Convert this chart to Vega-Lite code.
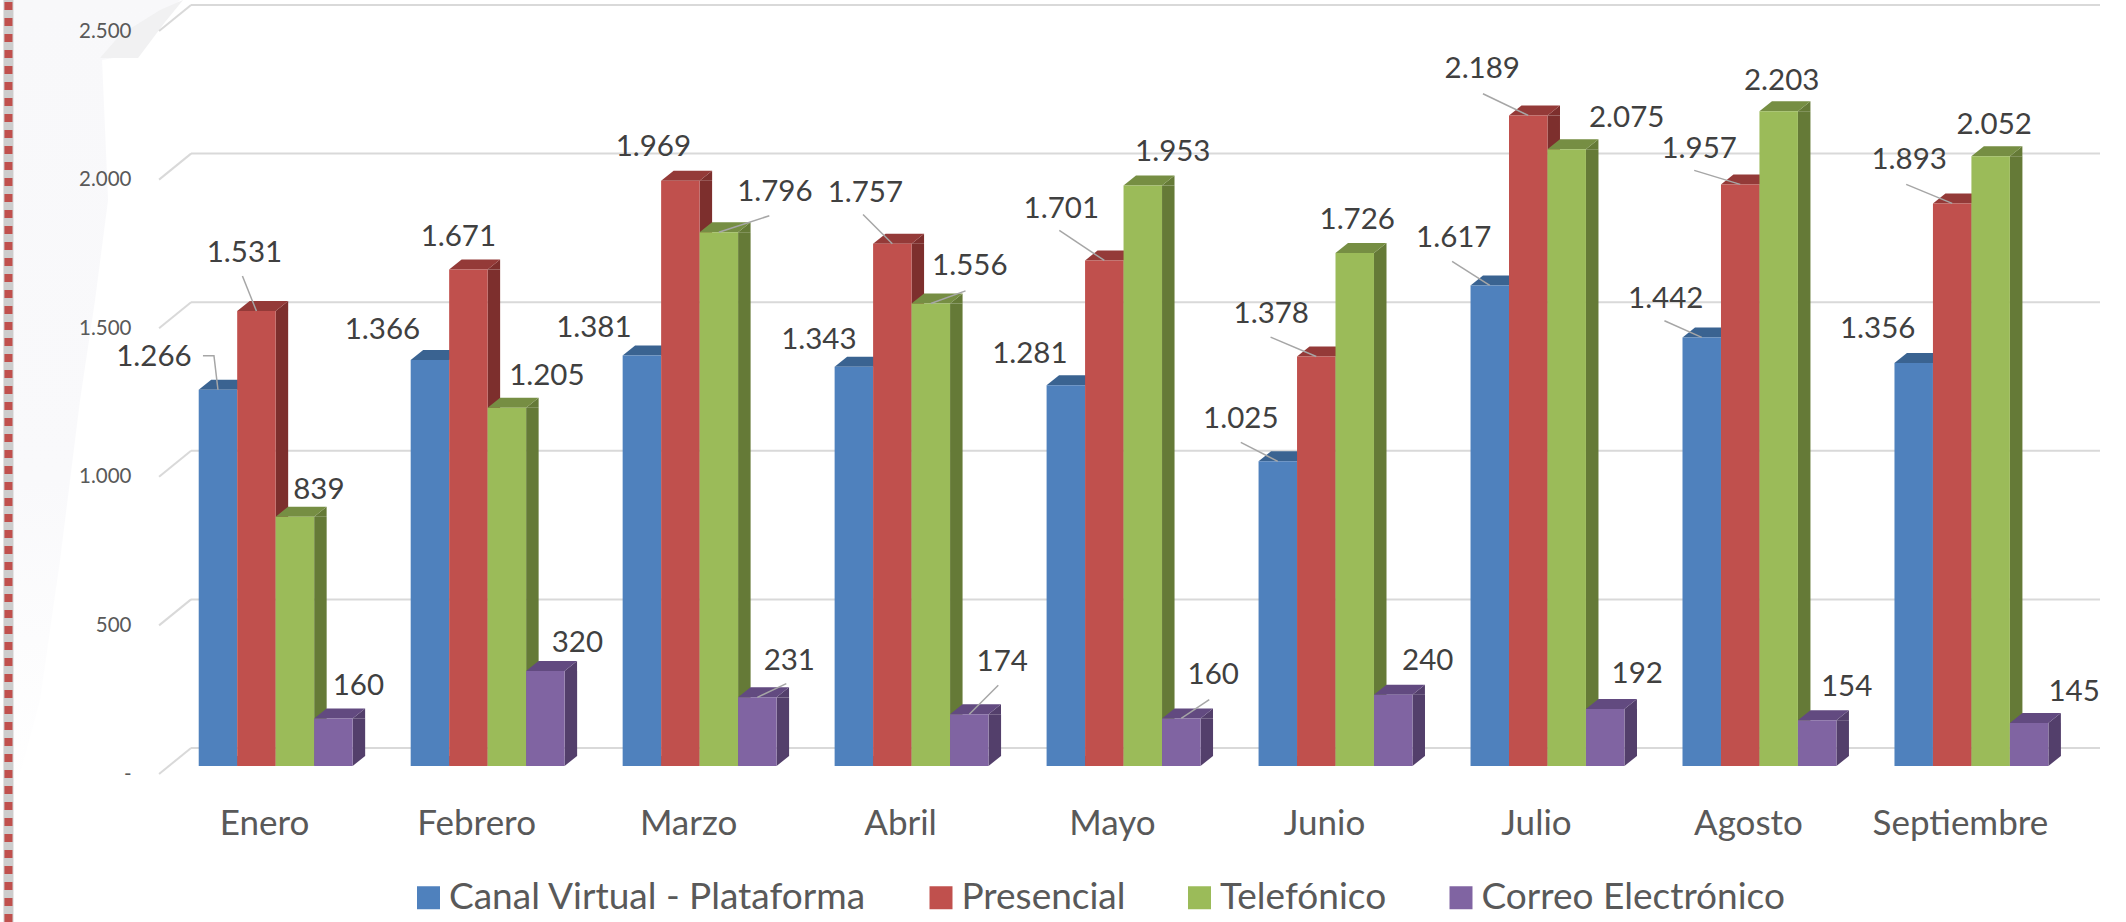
{
"$schema":"https://vega.github.io/schema/vega-lite/v6.json",
"width":1909,"height":743,
"autosize":{"type":"none"},
"padding":{"left":191,"top":23,"right":26,"bottom":156},
"background":"white",
"config":{"view":{"stroke":null},"font":"Lato","locale":{"number":{"decimal":",","thousands":".","grouping":[3],"currency":["$",""]}}},
"datasets":{
"marcas":[{"marca":0},{"marca":500},{"marca":1000},{"marca":1500},{"marca":2000},{"marca":2500}],
"atenciones":[
{"mes":"Enero","canal":"Canal Virtual - Plataforma","valor":1266},{"mes":"Enero","canal":"Presencial","valor":1531},{"mes":"Enero","canal":"Telefónico","valor":839},{"mes":"Enero","canal":"Correo Electrónico","valor":160},
{"mes":"Febrero","canal":"Canal Virtual - Plataforma","valor":1366},{"mes":"Febrero","canal":"Presencial","valor":1671},{"mes":"Febrero","canal":"Telefónico","valor":1205},{"mes":"Febrero","canal":"Correo Electrónico","valor":320},
{"mes":"Marzo","canal":"Canal Virtual - Plataforma","valor":1381},{"mes":"Marzo","canal":"Presencial","valor":1969},{"mes":"Marzo","canal":"Telefónico","valor":1796},{"mes":"Marzo","canal":"Correo Electrónico","valor":231},
{"mes":"Abril","canal":"Canal Virtual - Plataforma","valor":1343},{"mes":"Abril","canal":"Presencial","valor":1757},{"mes":"Abril","canal":"Telefónico","valor":1556},{"mes":"Abril","canal":"Correo Electrónico","valor":174},
{"mes":"Mayo","canal":"Canal Virtual - Plataforma","valor":1281},{"mes":"Mayo","canal":"Presencial","valor":1701},{"mes":"Mayo","canal":"Telefónico","valor":1953},{"mes":"Mayo","canal":"Correo Electrónico","valor":160},
{"mes":"Junio","canal":"Canal Virtual - Plataforma","valor":1025},{"mes":"Junio","canal":"Presencial","valor":1378},{"mes":"Junio","canal":"Telefónico","valor":1726},{"mes":"Junio","canal":"Correo Electrónico","valor":240},
{"mes":"Julio","canal":"Canal Virtual - Plataforma","valor":1617},{"mes":"Julio","canal":"Presencial","valor":2189},{"mes":"Julio","canal":"Telefónico","valor":2075},{"mes":"Julio","canal":"Correo Electrónico","valor":192},
{"mes":"Agosto","canal":"Canal Virtual - Plataforma","valor":1442},{"mes":"Agosto","canal":"Presencial","valor":1957},{"mes":"Agosto","canal":"Telefónico","valor":2203},{"mes":"Agosto","canal":"Correo Electrónico","valor":154},
{"mes":"Septiembre","canal":"Canal Virtual - Plataforma","valor":1356},{"mes":"Septiembre","canal":"Presencial","valor":1893},{"mes":"Septiembre","canal":"Telefónico","valor":2052},{"mes":"Septiembre","canal":"Correo Electrónico","valor":145}
]},
"layer":[
{"data":{"values":[{"fondo":1}]},
 "mark":{"type":"point","shape":"M13 0L180 0L130 55L102 60L108 200L95 300L80 400L60 560L40 700L13 800Z","size":4,"filled":true,"opacity":1,"xOffset":-275.6,
   "fill":{"gradient":"linear","x1":0,"y1":0,"x2":0,"y2":1,"stops":[{"offset":0,"color":"#f8f8fa"},{"offset":0.6,"color":"#f9f9fb"},{"offset":1,"color":"#ffffff"}]}},
 "encoding":{"x":{"datum":"Enero","type":"nominal","axis":{"title":null}},"y":{"datum":2577.4,"type":"quantitative","axis":{"title":null}}}},
{"data":{"values":[{"fondo":1}]},
 "mark":{"type":"point","shape":"M100 58L138 58L165 22L183 0L160 10L120 35Z","size":4,"filled":true,"fill":"#f1f1f2","opacity":1,"xOffset":-275.6},
 "encoding":{"x":{"datum":"Enero","type":"nominal","axis":{"title":null}},"y":{"datum":2577.4,"type":"quantitative","axis":{"title":null}}}},
{"data":{"values":[{"borde":1}]},
 "mark":{"type":"rule","color":"#cdcdcd","strokeWidth":10,"xOffset":-267.2},
 "encoding":{"x":{"datum":"Enero","type":"nominal","axis":{"title":null}},"y":{"datum":2577.4,"type":"quantitative","axis":{"title":null}},"y2":{"datum":-525}}},
{"data":{"values":[{"borde":1}]},
 "mark":{"type":"rule","color":"#c0504d","strokeWidth":8,"strokeDash":[8,8],"xOffset":-267.2},
 "encoding":{"x":{"datum":"Enero","type":"nominal","axis":{"title":null}},"y":{"datum":2570.7,"type":"quantitative","axis":{"title":null}},"y2":{"datum":-525}}},
{"data":{"name":"marcas"},
 "mark":{"type":"rule","color":"#d9d9d9","strokeWidth":2,"yOffset":-18},
 "encoding":{"y":{"field":"marca","type":"quantitative","scale":{"domain":[0,2500],"nice":false},
   "axis":{"title":null,"domain":false,"ticks":false,"grid":false,"zindex":1,"values":[0,500,1000,1500,2000,2500],"labelFontSize":20.5,"labelColor":"#595959","labelPadding":60,"labelOffset":8,"labelExpr":"datum.value==0?'-':format(datum.value,',')"}}}},
{"data":{"name":"marcas"},
 "mark":{"type":"point","shape":"M-32 8L0 -18","size":4,"filled":false,"stroke":"#d9d9d9","strokeWidth":2,"opacity":1,"xOffset":-84.6},
 "encoding":{"x":{"datum":"Enero","type":"nominal","axis":{"title":null}},"y":{"field":"marca","type":"quantitative","axis":{"title":null}}}},
{"data":{"name":"atenciones"},
 "resolve":{"scale":{"color":"independent"}},
 "encoding":{
  "x":{"field":"mes","type":"nominal","sort":null,
    "scale":{"domain":["Enero","Febrero","Marzo","Abril","Mayo","Junio","Julio","Agosto","Septiembre"],"paddingInner":0.274,"paddingOuter":0.14,"align":0.13},
    "axis":{"title":null,"domain":false,"ticks":false,"grid":false,"labelAngle":0,"labelAlign":"center","labelBaseline":"top","labelFontSize":35,"labelColor":"#595959","labelPadding":40,"labelOffset":-11}},
  "y":{"field":"valor","type":"quantitative","axis":{"title":null}}},
 "layer":[
  {"transform":[{"filter":"datum.canal=='Presencial'"}],"mark":{"type":"bar","color":"#7d2f2d","width":12.5,"xOffset":6.25,"y2Offset":-10},"encoding":{"y2":{"datum":0}}},
  {"transform":[{"filter":"datum.canal=='Telefónico'"}],"mark":{"type":"bar","color":"#657a37","width":12.5,"xOffset":44.75,"y2Offset":-10},"encoding":{"y2":{"datum":0}}},
  {"transform":[{"filter":"datum.canal=='Correo Electrónico'"}],"mark":{"type":"bar","color":"#533f6b","width":12.5,"xOffset":83.25,"y2Offset":-10},"encoding":{"y2":{"datum":0}}},
  {"mark":{"type":"point","shape":"M19.25 0L19.25 -10L31.75 -10Z","size":4,"filled":true,"opacity":1},
   "encoding":{"y":{"datum":0},"xOffset":{"field":"canal","type":"nominal","sort":null,"scale":{"domain":["Canal Virtual - Plataforma","Presencial","Telefónico","Correo Electrónico"]}},
    "color":{"field":"canal","type":"nominal","legend":null,"scale":{"domain":["Canal Virtual - Plataforma","Presencial","Telefónico","Correo Electrónico"],"range":["#3a6391","#7d2f2d","#657a37","#533f6b"]}}}},
  {"mark":{"type":"point","shape":"M19.25 0L31.75 -10L31.75 0Z","size":4,"filled":true,"opacity":1},
   "encoding":{"xOffset":{"field":"canal","type":"nominal","sort":null},
    "color":{"field":"canal","type":"nominal","legend":null,"scale":{"domain":["Canal Virtual - Plataforma","Presencial","Telefónico","Correo Electrónico"],"range":["#3a6391","#7d2f2d","#657a37","#533f6b"]}}}},
  {"mark":{"type":"point","shape":"M-19.25 0L19.25 0L31.75 -10L-6.75 -10Z","size":4,"filled":true,"opacity":1},
   "encoding":{"xOffset":{"field":"canal","type":"nominal","sort":null},
    "color":{"field":"canal","type":"nominal","legend":null,"scale":{"domain":["Canal Virtual - Plataforma","Presencial","Telefónico","Correo Electrónico"],"range":["#3a6391","#943a38","#768e43","#624a80"]}}}},
  {"mark":{"type":"bar"},
   "encoding":{"y2":{"datum":0},"xOffset":{"field":"canal","type":"nominal","sort":null},
    "color":{"field":"canal","type":"nominal","sort":null,"scale":{"domain":["Canal Virtual - Plataforma","Presencial","Telefónico","Correo Electrónico"],"range":["#4f81bd","#c0504d","#9bbb59","#8064a2"]},
     "legend":{"title":null,"orient":"none","legendX":219,"legendY":856,"direction":"horizontal","columns":4,"symbolType":"square","symbolSize":529,"symbolStrokeWidth":0,"labelFontSize":37,"labelColor":"#595959","labelLimit":700,"labelOffset":2,"columnPadding":55.5}}}},
  {"encoding":{"xOffset":{"field":"canal","type":"nominal","sort":null}},
   "layer":[
    {"transform":[{"filter":"datum.mes=='Enero'&&datum.canal=='Canal Virtual - Plataforma'"}],"mark":{"type":"point","shape":"M-15 -34L-4 -34L0 0","size":4,"filled":false,"stroke":"#a6a6a6","strokeWidth":1.5,"opacity":1}},
    {"transform":[{"filter":"datum.mes=='Enero'&&datum.canal=='Presencial'"}],"mark":{"type":"point","shape":"M-14 -35L0 0","size":4,"filled":false,"stroke":"#a6a6a6","strokeWidth":1.5,"opacity":1}},
    {"transform":[{"filter":"datum.mes=='Marzo'&&datum.canal=='Telefónico'"}],"mark":{"type":"point","shape":"M50.5 -16.5L0 0","size":4,"filled":false,"stroke":"#a6a6a6","strokeWidth":1.5,"opacity":1}},
    {"transform":[{"filter":"datum.mes=='Marzo'&&datum.canal=='Correo Electrónico'"}],"mark":{"type":"point","shape":"M29 -13.7L0 0","size":4,"filled":false,"stroke":"#a6a6a6","strokeWidth":1.5,"opacity":1}},
    {"transform":[{"filter":"datum.mes=='Abril'&&datum.canal=='Presencial'"}],"mark":{"type":"point","shape":"M-29.3 -29.3L0 0","size":4,"filled":false,"stroke":"#a6a6a6","strokeWidth":1.5,"opacity":1}},
    {"transform":[{"filter":"datum.mes=='Abril'&&datum.canal=='Telefónico'"}],"mark":{"type":"point","shape":"M34.7 -12.7L0 0","size":4,"filled":false,"stroke":"#a6a6a6","strokeWidth":1.5,"opacity":1}},
    {"transform":[{"filter":"datum.mes=='Abril'&&datum.canal=='Correo Electrónico'"}],"mark":{"type":"point","shape":"M29 -29L0 0","size":4,"filled":false,"stroke":"#a6a6a6","strokeWidth":1.5,"opacity":1}},
    {"transform":[{"filter":"datum.mes=='Mayo'&&datum.canal=='Presencial'"}],"mark":{"type":"point","shape":"M-45 -30L0 0","size":4,"filled":false,"stroke":"#a6a6a6","strokeWidth":1.5,"opacity":1}},
    {"transform":[{"filter":"datum.mes=='Mayo'&&datum.canal=='Correo Electrónico'"}],"mark":{"type":"point","shape":"M28 -18.7L0 0","size":4,"filled":false,"stroke":"#a6a6a6","strokeWidth":1.5,"opacity":1}},
    {"transform":[{"filter":"datum.mes=='Junio'&&datum.canal=='Canal Virtual - Plataforma'"}],"mark":{"type":"point","shape":"M-37 -19L0 0","size":4,"filled":false,"stroke":"#a6a6a6","strokeWidth":1.5,"opacity":1}},
    {"transform":[{"filter":"datum.mes=='Junio'&&datum.canal=='Presencial'"}],"mark":{"type":"point","shape":"M-45.7 -19.3L0 0","size":4,"filled":false,"stroke":"#a6a6a6","strokeWidth":1.5,"opacity":1}},
    {"transform":[{"filter":"datum.mes=='Julio'&&datum.canal=='Canal Virtual - Plataforma'"}],"mark":{"type":"point","shape":"M-37.7 -24L0 0","size":4,"filled":false,"stroke":"#a6a6a6","strokeWidth":1.5,"opacity":1}},
    {"transform":[{"filter":"datum.mes=='Julio'&&datum.canal=='Presencial'"}],"mark":{"type":"point","shape":"M-45.3 -21.7L0 0","size":4,"filled":false,"stroke":"#a6a6a6","strokeWidth":1.5,"opacity":1}},
    {"transform":[{"filter":"datum.mes=='Agosto'&&datum.canal=='Canal Virtual - Plataforma'"}],"mark":{"type":"point","shape":"M-37.3 -16.7L0 0","size":4,"filled":false,"stroke":"#a6a6a6","strokeWidth":1.5,"opacity":1}},
    {"transform":[{"filter":"datum.mes=='Agosto'&&datum.canal=='Presencial'"}],"mark":{"type":"point","shape":"M-46 -14L0 0","size":4,"filled":false,"stroke":"#a6a6a6","strokeWidth":1.5,"opacity":1}},
    {"transform":[{"filter":"datum.mes=='Septiembre'&&datum.canal=='Presencial'"}],"mark":{"type":"point","shape":"M-46 -19L0 0","size":4,"filled":false,"stroke":"#a6a6a6","strokeWidth":1.5,"opacity":1}}
   ]},
  {"encoding":{"xOffset":{"field":"canal","type":"nominal","sort":null},"text":{"field":"valor","type":"quantitative","format":","}},
   "layer":[
    {"transform":[{"filter":"datum.mes=='Enero'&&datum.canal=='Canal Virtual - Plataforma'"}],"mark":{"type":"text","fontSize":29.5,"color":"#404040","dx":-64,"dy":-33}},
    {"transform":[{"filter":"datum.mes=='Enero'&&datum.canal=='Presencial'"}],"mark":{"type":"text","fontSize":29.5,"color":"#404040","dx":-12,"dy":-57.5}},
    {"transform":[{"filter":"datum.mes=='Enero'&&datum.canal=='Telefónico'"}],"mark":{"type":"text","fontSize":29.5,"color":"#404040","dx":24,"dy":-27}},
    {"transform":[{"filter":"datum.mes=='Enero'&&datum.canal=='Correo Electrónico'"}],"mark":{"type":"text","fontSize":29.5,"color":"#404040","dx":25,"dy":-32}},
    {"transform":[{"filter":"datum.mes=='Febrero'&&datum.canal=='Canal Virtual - Plataforma'"}],"mark":{"type":"text","fontSize":29.5,"color":"#404040","dx":-47.5,"dy":-30.5}},
    {"transform":[{"filter":"datum.mes=='Febrero'&&datum.canal=='Presencial'"}],"mark":{"type":"text","fontSize":29.5,"color":"#404040","dx":-10,"dy":-32}},
    {"transform":[{"filter":"datum.mes=='Febrero'&&datum.canal=='Telefónico'"}],"mark":{"type":"text","fontSize":29.5,"color":"#404040","dx":40,"dy":-32}},
    {"transform":[{"filter":"datum.mes=='Febrero'&&datum.canal=='Correo Electrónico'"}],"mark":{"type":"text","fontSize":29.5,"color":"#404040","dx":32,"dy":-28}},
    {"transform":[{"filter":"datum.mes=='Marzo'&&datum.canal=='Canal Virtual - Plataforma'"}],"mark":{"type":"text","fontSize":29.5,"color":"#404040","dx":-48,"dy":-27.6}},
    {"transform":[{"filter":"datum.mes=='Marzo'&&datum.canal=='Presencial'"}],"mark":{"type":"text","fontSize":29.5,"color":"#404040","dx":-27,"dy":-34}},
    {"transform":[{"filter":"datum.mes=='Marzo'&&datum.canal=='Telefónico'"}],"mark":{"type":"text","fontSize":29.5,"color":"#404040","dx":56,"dy":-40}},
    {"transform":[{"filter":"datum.mes=='Marzo'&&datum.canal=='Correo Electrónico'"}],"mark":{"type":"text","fontSize":29.5,"color":"#404040","dx":32,"dy":-36}},
    {"transform":[{"filter":"datum.mes=='Abril'&&datum.canal=='Canal Virtual - Plataforma'"}],"mark":{"type":"text","fontSize":29.5,"color":"#404040","dx":-35,"dy":-26.6}},
    {"transform":[{"filter":"datum.mes=='Abril'&&datum.canal=='Presencial'"}],"mark":{"type":"text","fontSize":29.5,"color":"#404040","dx":-27,"dy":-51}},
    {"transform":[{"filter":"datum.mes=='Abril'&&datum.canal=='Telefónico'"}],"mark":{"type":"text","fontSize":29.5,"color":"#404040","dx":39,"dy":-38}},
    {"transform":[{"filter":"datum.mes=='Abril'&&datum.canal=='Correo Electrónico'"}],"mark":{"type":"text","fontSize":29.5,"color":"#404040","dx":33,"dy":-52.6}},
    {"transform":[{"filter":"datum.mes=='Mayo'&&datum.canal=='Canal Virtual - Plataforma'"}],"mark":{"type":"text","fontSize":29.5,"color":"#404040","dx":-36,"dy":-31.4}},
    {"transform":[{"filter":"datum.mes=='Mayo'&&datum.canal=='Presencial'"}],"mark":{"type":"text","fontSize":29.5,"color":"#404040","dx":-43,"dy":-51.7}},
    {"transform":[{"filter":"datum.mes=='Mayo'&&datum.canal=='Telefónico'"}],"mark":{"type":"text","fontSize":29.5,"color":"#404040","dx":30,"dy":-33.7}},
    {"transform":[{"filter":"datum.mes=='Mayo'&&datum.canal=='Correo Electrónico'"}],"mark":{"type":"text","fontSize":29.5,"color":"#404040","dx":32,"dy":-43}},
    {"transform":[{"filter":"datum.mes=='Junio'&&datum.canal=='Canal Virtual - Plataforma'"}],"mark":{"type":"text","fontSize":29.5,"color":"#404040","dx":-37,"dy":-42.4}},
    {"transform":[{"filter":"datum.mes=='Junio'&&datum.canal=='Presencial'"}],"mark":{"type":"text","fontSize":29.5,"color":"#404040","dx":-45,"dy":-42}},
    {"transform":[{"filter":"datum.mes=='Junio'&&datum.canal=='Telefónico'"}],"mark":{"type":"text","fontSize":29.5,"color":"#404040","dx":2.5,"dy":-33}},
    {"transform":[{"filter":"datum.mes=='Junio'&&datum.canal=='Correo Electrónico'"}],"mark":{"type":"text","fontSize":29.5,"color":"#404040","dx":34.5,"dy":-34}},
    {"transform":[{"filter":"datum.mes=='Julio'&&datum.canal=='Canal Virtual - Plataforma'"}],"mark":{"type":"text","fontSize":29.5,"color":"#404040","dx":-36,"dy":-47}},
    {"transform":[{"filter":"datum.mes=='Julio'&&datum.canal=='Presencial'"}],"mark":{"type":"text","fontSize":29.5,"color":"#404040","dx":-46,"dy":-46}},
    {"transform":[{"filter":"datum.mes=='Julio'&&datum.canal=='Telefónico'"}],"mark":{"type":"text","fontSize":29.5,"color":"#404040","dx":60,"dy":-31}},
    {"transform":[{"filter":"datum.mes=='Julio'&&datum.canal=='Correo Electrónico'"}],"mark":{"type":"text","fontSize":29.5,"color":"#404040","dx":32,"dy":-35}},
    {"transform":[{"filter":"datum.mes=='Agosto'&&datum.canal=='Canal Virtual - Plataforma'"}],"mark":{"type":"text","fontSize":29.5,"color":"#404040","dx":-36,"dy":-38}},
    {"transform":[{"filter":"datum.mes=='Agosto'&&datum.canal=='Presencial'"}],"mark":{"type":"text","fontSize":29.5,"color":"#404040","dx":-41,"dy":-35}},
    {"transform":[{"filter":"datum.mes=='Agosto'&&datum.canal=='Telefónico'"}],"mark":{"type":"text","fontSize":29.5,"color":"#404040","dx":3,"dy":-30}},
    {"transform":[{"filter":"datum.mes=='Agosto'&&datum.canal=='Correo Electrónico'"}],"mark":{"type":"text","fontSize":29.5,"color":"#404040","dx":29.5,"dy":-33}},
    {"transform":[{"filter":"datum.mes=='Septiembre'&&datum.canal=='Canal Virtual - Plataforma'"}],"mark":{"type":"text","fontSize":29.5,"color":"#404040","dx":-36,"dy":-33.5}},
    {"transform":[{"filter":"datum.mes=='Septiembre'&&datum.canal=='Presencial'"}],"mark":{"type":"text","fontSize":29.5,"color":"#404040","dx":-43,"dy":-43}},
    {"transform":[{"filter":"datum.mes=='Septiembre'&&datum.canal=='Telefónico'"}],"mark":{"type":"text","fontSize":29.5,"color":"#404040","dx":3.5,"dy":-31.4}},
    {"transform":[{"filter":"datum.mes=='Septiembre'&&datum.canal=='Correo Electrónico'"}],"mark":{"type":"text","fontSize":29.5,"color":"#404040","dx":45,"dy":-31}}
   ]}
 ]}
]}
